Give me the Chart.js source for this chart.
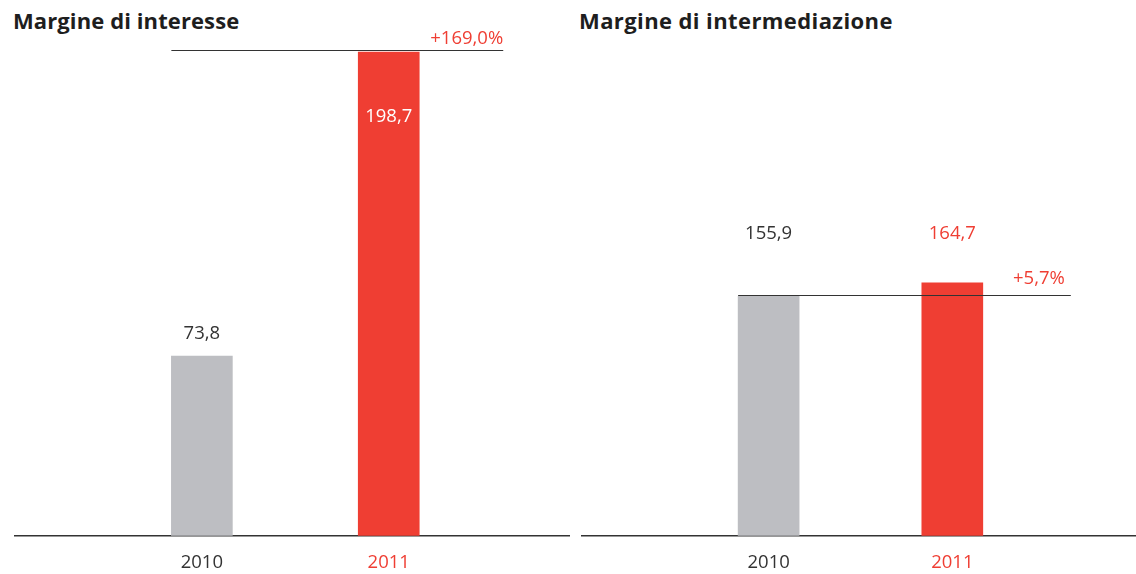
<!DOCTYPE html>
<html>
<head>
<meta charset="utf-8">
<script src="https://cdn.jsdelivr.net/npm/chart.js@4/dist/chart.umd.min.js"></script>
<style>
  html, body { margin: 0; padding: 0; background: #fff; overflow: hidden; width: 1136px; height: 574px; }
  body { position: relative; font-family: "Open Sans", sans-serif; }
  .title { position: absolute; top: 5px; font-family: "Open Sans", sans-serif; font-weight: 700; font-size: 22px; color: #1e1e1e; white-space: nowrap; }
  canvas { position: absolute; top: 0; }
</style>
</head>
<body>
<div class="title" id="t1" style="left:13px; letter-spacing:0.1px;">Margine di interesse</div>
<div class="title" id="t2" style="left:579px; letter-spacing:0.4px;">Margine di intermediazione</div>
<canvas id="c1" width="570" height="590" style="left:0px;"></canvas>
<canvas id="c2" width="566" height="590" style="left:570px;"></canvas>
<script>
// ---- data ----
const years = ['2010', '2011'];
const margineInteresse = [73.8, 198.7];
const margineIntermediazione = [155.9, 164.7];
const variazioni = ['+169,0%', '+5,7%'];

// ---- style ----
const GREY = '#bdbec2';
const RED = '#ef3e33';
const DARK = '#333333';
const FONT = '"Open Sans", sans-serif';
const FS = 18.5;

function fmt(v) { return Number(v).toFixed(1).replace('.', ','); }

function makeLabelPlugin(cfg) {
  return {
    id: 'labels_' + cfg.id,
    afterDatasetsDraw(chart) {
      const ctx = chart.ctx;
      const meta = chart.getDatasetMeta(0);
      const values = cfg.values;
      const yScale = chart.scales.y;
      const bars = meta.data;
      ctx.save();
      // reference line at level of chosen bar
      const refY = Math.round(yScale.getPixelForValue(values[cfg.refIndex])) - 0.5 - cfg.lineLift;
      const x0 = bars[0].x - bars[0].width / 2;
      const x1 = bars[1].x + bars[1].width / 2 + cfg.lineExt;
      ctx.strokeStyle = DARK;
      ctx.lineWidth = 1;
      ctx.beginPath();
      ctx.moveTo(x0, refY);
      ctx.lineTo(x1, refY);
      ctx.stroke();
      // percent label
      ctx.font = FS + 'px ' + FONT;
      ctx.fillStyle = RED;
      ctx.textAlign = 'right';
      ctx.textBaseline = 'middle';
      ctx.fillText(cfg.pct, x1 + cfg.pctShift, refY - cfg.pctLift);
      // value labels
      ctx.textAlign = 'center';
      const topY = Math.min(...bars.map(bb => bb.y));
      bars.forEach((b, i) => {
        const txt = fmt(values[i]);
        let y, color;
        if (cfg.mode === 'left') {
          if (i === 0) { y = b.y - 22; color = DARK; }
          else { y = b.y + 65; color = '#ffffff'; }
        } else {
          y = topY - 49;
          color = i === 0 ? DARK : RED;
        }
        ctx.fillStyle = color;
        ctx.fillText(txt, b.x, y);
      });
      ctx.restore();
    }
  };
}

function makeChart(canvasId, values, xMin, xMax, yMax, padLeft, plugin) {
  return new Chart(document.getElementById(canvasId), {
    type: 'bar',
    data: {
      datasets: [{
        data: values.map((v, i) => ({ x: i, y: v })),
        backgroundColor: values.map((v, i) => i === 0 ? GREY : RED),
        borderWidth: 0,
        barThickness: 61
      }]
    },
    options: {
      responsive: false,
      animation: false,
      events: [],
      layout: { padding: { left: padLeft, right: 0, top: 49, bottom: 0 } },
      plugins: { legend: { display: false }, tooltip: { enabled: false }, title: { display: false } },
      scales: {
        x: {
          type: 'linear',
          min: xMin,
          max: xMax,
          offset: false,
          grid: { display: false, drawTicks: false },
          border: { display: true, color: DARK, width: 1.5 },
          afterBuildTicks: (scale) => { scale.ticks = years.map((_, i) => ({ value: i })); },
          ticks: {
            autoSkip: false,
            maxRotation: 0,
            padding: 16,
            font: { family: FONT, size: FS },
            color: (c) => (c.tick && c.tick.value === 1) ? RED : DARK,
            callback: (v) => (Number.isInteger(v) && v >= 0 && v < years.length) ? years[v] : ''
          }
        },
        y: {
          display: false,
          min: 0,
          max: yMax
        }
      }
    },
    plugins: [plugin]
  });
}

makeChart('c1', margineInteresse, -1.0, 1.97, 200, 15,
  makeLabelPlugin({ id: 'a', values: margineInteresse, refIndex: 1, lineLift: 1, lineExt: 84, pct: variazioni[0], pctShift: 0, pctLift: 12, mode: 'left' }));
makeChart('c2', margineIntermediazione, -1.016, 2.0, 317, 12,
  makeLabelPlugin({ id: 'b', values: margineIntermediazione, refIndex: 0, lineLift: 0, lineExt: 88, pct: variazioni[1], pctShift: -6, pctLift: 17, mode: 'right' }));
</script>
</body>
</html>
